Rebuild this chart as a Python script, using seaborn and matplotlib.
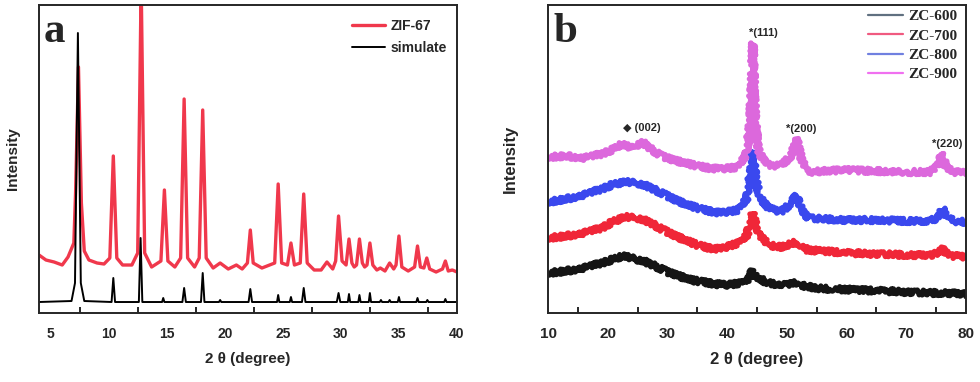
import pandas as pd
import matplotlib.pyplot as plt
import seaborn as sns
from matplotlib.ticker import MultipleLocator

sns.set_style("ticks")
plt.rcParams['font.family'] = ['Liberation Sans', 'DejaVu Sans']

# ---- panel a: ZIF-67 measured vs simulated pattern (intensity in arbitrary units)
zif_x = [4.0, 4.6, 5.3, 6.0, 6.5, 7.0, 7.15, 7.4, 7.65, 7.9, 8.3, 9.0, 9.6, 10.1, 10.4, 10.7, 11.2,
         12.0, 12.5, 12.8, 13.1, 13.7, 14.5, 14.8, 15.1, 15.7, 16.2, 16.5, 16.8, 17.4, 17.8, 18.1,
         18.4, 19.0, 19.6, 20.3, 21.0, 21.5, 21.95, 22.2, 22.45, 23.2, 24.3, 24.6, 24.9, 25.4, 25.7,
         26.0, 26.5, 26.8, 27.1, 27.7, 28.3, 28.8, 29.3, 29.55, 29.8, 30.1, 30.45, 30.7, 30.95, 31.15,
         31.35, 31.6, 31.85, 32.05, 32.25, 32.5, 32.75, 33.1, 33.4, 33.8, 34.2, 34.55, 34.75, 35.0,
         35.25, 35.8, 36.35, 36.6, 36.85, 37.15, 37.4, 37.65, 38.2, 38.75, 39.0, 39.25, 39.6, 40.0]
zif_y = [58, 53, 51, 48, 56, 70, 120, 246, 110, 62, 53, 50, 49, 55, 157, 55, 48,
         48, 60, 330, 60, 46, 52, 123, 52, 46, 55, 214, 55, 46, 55, 203,
         55, 45, 50, 44, 48, 44, 50, 83, 50, 45, 50, 129, 50, 48, 70,
         48, 50, 119, 50, 43, 43, 51, 44, 52, 97, 52, 48, 74, 50, 46,
         48, 74, 50, 46, 48, 70, 48, 43, 45, 42, 50, 44, 48, 77,
         46, 42, 46, 67, 46, 45, 55, 44, 41, 44, 52, 42, 43, 41]

sim_x = [4.0, 6.8, 7.1, 7.35, 7.6, 7.9, 10.25, 10.4, 10.55, 12.6, 12.75, 12.9, 14.6, 14.7, 14.8,
         16.35, 16.5, 16.65, 17.95, 18.1, 18.25, 19.5, 19.6, 19.7, 22.05, 22.2, 22.35, 24.5, 24.6,
         24.7, 25.6, 25.7, 25.8, 26.65, 26.8, 26.95, 29.65, 29.8, 29.95, 30.6, 30.7, 30.8, 31.5,
         31.6, 31.7, 32.4, 32.5, 32.6, 33.35, 33.45, 33.55, 34.1, 34.2, 34.3, 34.9, 35.0, 35.1,
         36.5, 36.6, 36.7, 37.35, 37.45, 37.55, 38.9, 39.0, 39.1, 40.0]
sim_y = [11, 12, 30, 280, 30, 12, 11, 35, 11, 11, 75, 11, 11, 15, 11,
         11, 25, 11, 11, 40, 11, 11, 13, 11, 11, 24, 11, 11, 18,
         11, 11, 16, 11, 11, 25, 11, 11, 20, 11, 11, 19, 11, 11,
         18, 11, 11, 20, 11, 11, 13, 11, 11, 13, 11, 11, 16, 11,
         11, 15, 11, 11, 13, 11, 11, 14, 11, 11]

# ---- panel b: carbonised samples
zc600_x = [10, 13, 16, 19, 21, 22.5, 24, 26, 28, 30, 32, 34, 36, 38, 40, 42, 43.5, 44.3, 45, 46.5,
           48, 50, 51.5, 53, 55, 58, 62, 66, 70, 74, 77, 80]
zc600_y = [40, 42, 45, 50, 54, 57, 55, 52, 47, 41, 37, 33, 31, 29, 28, 30, 34, 43, 36, 31,
           29, 28, 30, 27, 25, 24, 23, 22, 21, 20, 20, 19]

zc700_x = [10, 13, 16, 19, 21, 23, 25, 27, 29, 31, 33, 35, 37, 39, 41.7, 43.3, 44.3, 45.3, 47, 49,
           51.5, 53.5, 56, 60, 65, 70, 74, 75.5, 76.1, 76.7, 78, 80]
zc700_y = [75, 77, 80, 85, 92, 96, 95, 91, 84, 78, 73, 68, 65, 64, 70, 78, 100, 78, 68, 66,
           71, 63, 62, 60, 59, 58, 58, 60, 65, 60, 57, 56]

zc800_x = [10, 13, 16, 19, 21, 23, 25, 27, 29, 31, 33, 35, 37, 39, 41.7, 43.3, 43.9, 44.3, 44.8,
           45.5, 47, 49, 50.8, 51.5, 52.3, 53.5, 56, 60, 65, 70, 74, 75.5, 76.1, 76.7, 78, 80]
zc800_y = [111, 114, 118, 124, 129, 131, 130, 126, 120, 114, 109, 105, 102, 100, 103, 115, 140, 161, 135,
           115, 105, 101, 110, 118, 106, 95, 94, 93, 93, 92, 92, 96, 105, 96, 92, 91]

zc900_x = [10, 13, 16, 19, 21, 22.3, 24, 25.8, 27.5, 29, 31, 33, 35, 37, 39, 41.7, 43.3, 43.9, 44.3,
           44.7, 45.3, 47, 49, 50.8, 51.6, 52.4, 53.5, 56, 60, 65, 70, 74, 75.4, 76.0, 76.6, 78, 80]
zc900_y = [156, 157, 155, 159, 164, 169, 165, 171, 163, 157, 153, 150, 147, 145, 144, 146, 160, 200, 270,
           195, 160, 148, 147, 158, 175, 155, 141, 142, 143, 142, 141, 141, 148, 160, 146, 141, 140]

peak_labels = ["\u25c6 (002)", "*(111)", "*(200)", "*(220)"]
peak_label_x = [25.7, 46.0, 52.4, 76.8]
peak_label_y = [185, 280, 184, 169]

df_a = pd.concat([
    pd.DataFrame({"2theta": zif_x, "intensity": zif_y, "sample": "ZIF-67"}),
    pd.DataFrame({"2theta": sim_x, "intensity": sim_y, "sample": "simulate"}),
])
df_b = pd.concat([
    pd.DataFrame({"2theta": zc600_x, "intensity": zc600_y, "sample": "ZC-600"}),
    pd.DataFrame({"2theta": zc700_x, "intensity": zc700_y, "sample": "ZC-700"}),
    pd.DataFrame({"2theta": zc800_x, "intensity": zc800_y, "sample": "ZC-800"}),
    pd.DataFrame({"2theta": zc900_x, "intensity": zc900_y, "sample": "ZC-900"}),
])

fig = plt.figure(figsize=(9.8, 3.82), dpi=100)
ax1 = fig.add_axes([0.0398, 0.1806, 0.4265, 0.8063])
ax2 = fig.add_axes([0.5592, 0.1806, 0.4265, 0.8063])

sns.lineplot(data=df_a, x="2theta", y="intensity", hue="sample", size="sample",
             palette={"ZIF-67": "#f0384c", "simulate": "#000000"},
             sizes={"ZIF-67": 2.4, "simulate": 1.4},
             estimator=None, sort=False, ax=ax1)
sns.lineplot(data=df_b, x="2theta", y="intensity", hue="sample",
             palette={"ZC-600": "#151515", "ZC-700": "#f02638", "ZC-800": "#3a48ee", "ZC-900": "#dc68dc"},
             estimator=None, sort=False, linewidth=3.8, ax=ax2)

# measured patterns look noisy: roughen the drawn stroke (style only, data unchanged)
for ln in ax2.lines[:4]:
    ln.set_sketch_params(scale=2.6, length=2.0, randomness=3)

for ax, xlim, minor, tfs, lfs, lpad in [(ax1, (4, 40), 2.5, 10, 11, 14), (ax2, (10, 80), 5, 11, 12, 22)]:
    ax.set_xlim(*xlim)
    ax.set_ylim(0, 308)
    ax.set_yticks([])
    ax.xaxis.set_minor_locator(MultipleLocator(minor))
    ax.tick_params(axis="x", which="major", length=0, pad=10, labelsize=tfs)
    ax.tick_params(axis="x", which="minor", direction="in", length=4, width=1.4)
    for s in ax.spines.values():
        s.set_visible(True)
        s.set_linewidth(1.4)
    ax.set_xlabel("2 \u03b8 (degree)", fontsize=lfs, fontweight="bold", labelpad=8)
    ax.set_ylabel("Intensity", fontsize=lfs, fontweight="bold", labelpad=lpad)

ax1.set_xticks([5, 10, 15, 20, 25, 30, 35, 40])
ax2.set_xticks([10, 20, 30, 40, 50, 60, 70, 80])
ax1.xaxis.set_minor_locator(MultipleLocator(2.5))
for lbl in ax1.get_xticklabels() + ax2.get_xticklabels():
    lbl.set_fontweight("bold")

leg1 = ax1.legend(loc="upper left", bbox_to_anchor=(0.749, 0.955), frameon=False,
                  prop={"weight": "bold", "size": 10}, handlelength=2.4,
                  handletextpad=0.36, labelspacing=0.58, borderpad=0, borderaxespad=0)
leg2 = ax2.legend(loc="upper left", bbox_to_anchor=(0.766, 0.985), frameon=False,
                  prop={"family": "Liberation Serif", "weight": "bold", "size": 11},
                  handlelength=2.3, handletextpad=0.33, labelspacing=0.37,
                  borderpad=0, borderaxespad=0)
for line, c in zip(leg2.get_lines(), ["#607080", "#f05a80", "#7080e0", "#f070f0"]):
    line.set_color(c)
    line.set_linewidth(1.6)
    line.set_sketch_params(None)

for txt, x, y in zip(peak_labels, peak_label_x, peak_label_y):
    ax2.text(x, y, txt, ha="center", va="center", fontsize=8, fontweight="bold",
             family=["Liberation Sans", "DejaVu Sans"])

ax1.text(0.01, 0.88, "a", transform=ax1.transAxes, fontsize=31, fontweight="bold",
         family="Liberation Serif", va="baseline", ha="left")
ax2.text(0.012, 0.88, "b", transform=ax2.transAxes, fontsize=31, fontweight="bold",
         family="Liberation Serif", va="baseline", ha="left")

plt.savefig("out.png", dpi=100)
